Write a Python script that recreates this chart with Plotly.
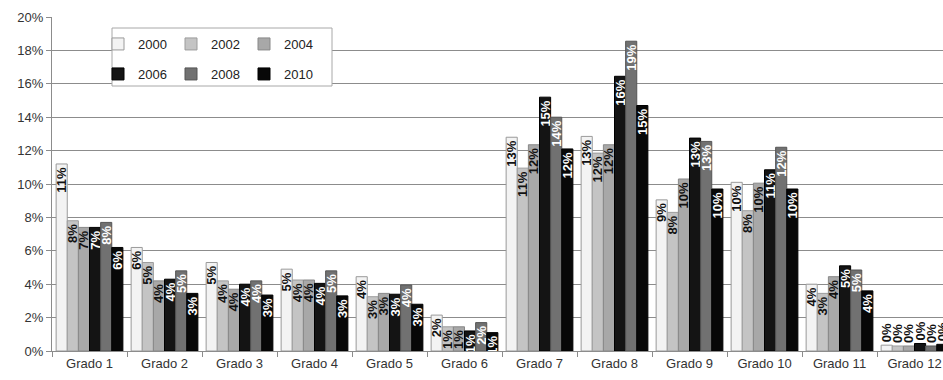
import plotly.graph_objects as go

# Share of students by grade (percent), one series per year
grades = ["Grado 1", "Grado 2", "Grado 3", "Grado 4", "Grado 5", "Grado 6",
          "Grado 7", "Grado 8", "Grado 9", "Grado 10", "Grado 11", "Grado 12"]
years = ["2000", "2002", "2004", "2006", "2008", "2010"]

v2000 = [11.2, 6.2, 5.3, 4.9, 4.45, 2.15, 12.8, 12.85, 9.05, 10.1, 4.0, 0.35]
v2002 = [7.8, 5.3, 4.2, 4.25, 3.25, 1.45, 10.95, 11.85, 8.3, 8.4, 3.45, 0.3]
v2004 = [7.4, 4.2, 3.7, 4.25, 3.45, 1.45, 12.35, 12.35, 10.3, 10.05, 4.45, 0.3]
v2006 = [7.4, 4.3, 4.0, 4.05, 3.4, 1.2, 15.2, 16.45, 12.75, 10.85, 5.1, 0.45]
v2008 = [7.7, 4.8, 4.2, 4.8, 3.95, 1.7, 14.0, 18.55, 12.55, 12.2, 4.85, 0.3]
v2010 = [6.2, 3.45, 3.35, 3.3, 2.8, 1.1, 12.1, 14.7, 9.7, 9.7, 3.6, 0.4]
series = [v2000, v2002, v2004, v2006, v2008, v2010]

fills = ["#f3f3f3", "#c4c4c4", "#a8a8a8", "#141414", "#717171", "#080808"]
edges = ["#9a9a9a", "#9c9c9c", "#888888", "#000000", "#555555", "#000000"]
label_colors = ["#111111", "#111111", "#111111", "#ffffff", "#ffffff", "#ffffff"]
legend_ids = ["legend", "legend", "legend", "legend2", "legend2", "legend2"]

FONT = "Liberation Sans, Arial, sans-serif"

# plot area in pixels: left 52, right 943, top 17, bottom 351
PX_L, PX_W, PX_B, PX_H = 52, 891, 351, 334


def px_x(px):
    return (px - PX_L) / PX_W


def px_y(py):
    return (PX_B - py) / PX_H


fig = go.Figure()
for year, vals, fc, ec, lc, lg in zip(years, series, fills, edges, label_colors, legend_ids):
    # very short bars carry their label above the bar
    positions = ["outside" if v < 1.0 else "inside" for v in vals]
    fig.add_trace(go.Bar(
        x=grades, y=vals, name=year, legend=lg,
        marker=dict(color=fc, line=dict(color=ec, width=1)),
        texttemplate="%{y:.0f}%", textposition=positions,
        textangle=-90, insidetextanchor="end",
        insidetextfont=dict(family=FONT, size=13, color=lc, weight="bold"),
        outsidetextfont=dict(family=FONT, size=13, color="#111111", weight="bold"),
        cliponaxis=True,
    ))

legend_style = dict(orientation="h", xref="paper", yref="paper",
                    xanchor="left", yanchor="top",
                    entrywidth=28, entrywidthmode="pixels",
                    bgcolor="rgba(0,0,0,0)", borderwidth=0,
                    font=dict(family=FONT, size=13, color="#222222"))

fig.update_layout(
    width=943, height=380,
    margin=dict(l=PX_L, r=0, t=17, b=29, autoexpand=False),
    paper_bgcolor="white", plot_bgcolor="white",
    barmode="group", bargap=0.11, bargroupgap=0,
    font=dict(family=FONT, size=13, color="#333333"),
    uniformtext=dict(minsize=13, mode="show"),
    legend=dict(legend_style, x=px_x(98), y=px_y(29)),
    legend2=dict(legend_style, x=px_x(98), y=px_y(59)),
    shapes=[dict(type="rect", xref="paper", yref="paper",
                 x0=px_x(112), x1=px_x(332), y0=px_y(86), y1=px_y(28),
                 fillcolor="white", line=dict(color="#a8a8a8", width=1),
                 layer="above")],
)

fig.update_xaxes(
    range=[-0.5, 11.38], showline=True, linecolor="#8c8c8c", linewidth=1,
    ticks="outside", tickson="boundaries", ticklen=5, tickcolor="#8c8c8c",
    showgrid=False, tickfont=dict(family=FONT, size=13, color="#333333"),
)
fig.update_yaxes(
    range=[0, 20], dtick=2, ticksuffix="%", showline=True,
    linecolor="#8c8c8c", linewidth=1, ticks="outside", ticklen=5,
    tickcolor="#8c8c8c", showgrid=True, gridcolor="#8c8c8c", gridwidth=1,
    zeroline=False, tickfont=dict(family=FONT, size=13, color="#333333"),
)

fig.write_html("out.html")
